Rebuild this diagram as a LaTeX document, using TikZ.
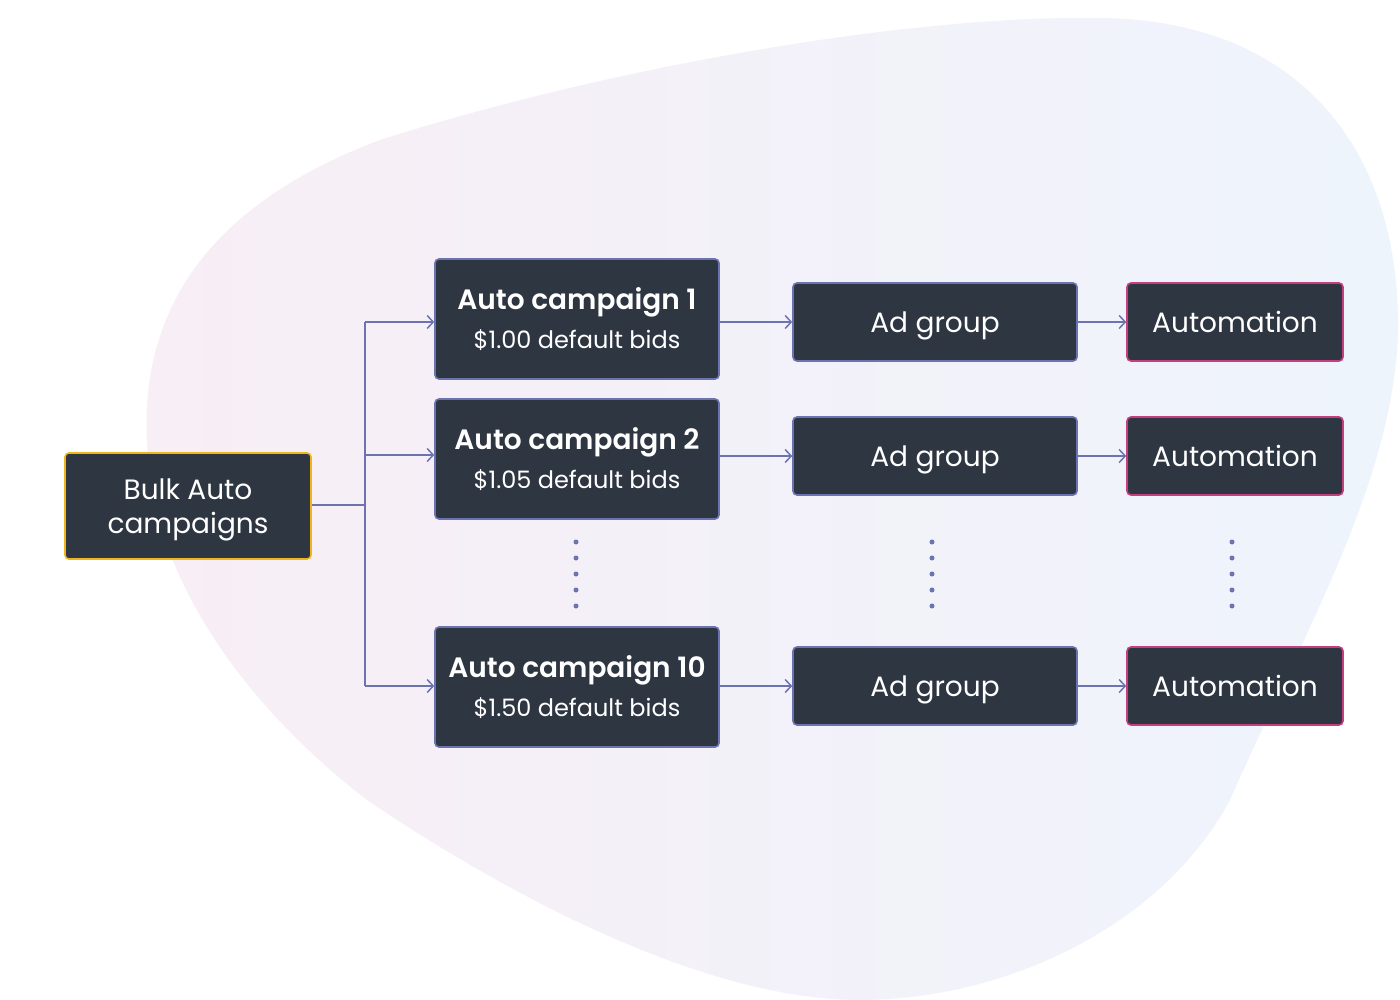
\documentclass[tikz,border=0pt]{standalone}
\usepackage{fontspec}
\setmainfont{Poppins}[BoldFont={Poppins SemiBold}]
\usetikzlibrary{arrows.meta}
\definecolor{boxfill}{HTML}{2E3642}
\definecolor{linec}{HTML}{6B74B0}
\definecolor{yel}{HTML}{F0B41C}
\definecolor{mag}{HTML}{C43E80}
\definecolor{blobL}{HTML}{F8EEF5}
\definecolor{blobR}{HTML}{EEF4FC}
\tikzset{
  basebox/.style={draw=linec, line width=1.6pt, fill=boxfill, rounded corners=4pt, text=white, align=center, inner sep=0pt},
  campbox/.style={basebox, minimum width=284pt, minimum height=120pt},
  adbox/.style={basebox, minimum width=284pt, minimum height=78pt, text depth=0pt, font=\fontsize{28}{32}\selectfont},
  autobox/.style={basebox, draw=mag, minimum width=216pt, minimum height=78pt, font=\fontsize{28}{32}\selectfont},
  bulkbox/.style={basebox, draw=yel, minimum width=246pt, minimum height=106pt, text depth=0pt, font=\fontsize{28}{34}\selectfont},
  conn/.style={draw=linec, line width=1.5pt, -{Straight Barb[length=6pt,width=13pt,line width=1.5pt]}},
  plain/.style={draw=linec, line width=1.5pt},
  dotc/.style={fill=linec, draw=none, circle, minimum size=5pt, inner sep=0pt}
}
\newcommand{\camptext}[2]{{\fontsize{28}{30}\selectfont\bfseries #1}\\[11pt]{\fontsize{24}{26}\selectfont #2}}
\begin{document}
\begin{tikzpicture}[x=1pt,y=-1pt]
\useasboundingbox (0,0) rectangle (1400,1000);
\shade[left color=blobL, right color=blobR]
  (147,440) .. controls (140,300) and (220,200) .. (380,140)
  .. controls (600,70) and (900,15) .. (1100,18)
  .. controls (1300,20) and (1400,150) .. (1398,330)
  .. controls (1395,480) and (1300,640) .. (1230,800)
  .. controls (1160,930) and (1000,1000) .. (860,1000)
  .. controls (700,1000) and (500,890) .. (367,800)
  .. controls (250,710) and (150,580) .. (147,440) -- cycle;
% nodes
\node[bulkbox] (bulk) at (188,506) {Bulk Auto\\campaigns};
\node[campbox] (c1) at (577,319) {\camptext{Auto campaign 1}{\$1.00 default bids}};
\node[campbox] (c2) at (577,459) {\camptext{Auto campaign 2}{\$1.05 default bids}};
\node[campbox] (c3) at (577,687) {\camptext{Auto campaign 10}{\$1.50 default bids}};
\node[adbox] (a1) at (935,322) {Ad group};
\node[adbox] (a2) at (935,456) {Ad group};
\node[adbox] (a3) at (935,686) {Ad group};
\node[autobox] (m1) at (1235,322) {Automation};
\node[autobox] (m2) at (1235,456) {Automation};
\node[autobox] (m3) at (1235,686) {Automation};
% trunk
\coordinate (tj) at (365,505);
\coordinate (t1) at (365,322);
\coordinate (t2) at (365,455);
\coordinate (t3) at (365,686);
\draw[plain] (bulk.east |- tj) -- (tj);
\draw[plain] (t1) -- (t3);
\draw[conn] (t1) -- (c1.west |- t1);
\draw[conn] (t2) -- (c2.west |- t2);
\draw[conn] (t3) -- (c3.west |- t3);
\draw[conn] (c1.east |- a1) -- (a1.west);
\draw[conn] (c2.east |- a2) -- (a2.west);
\draw[conn] (c3.east |- a3) -- (a3.west);
\draw[conn] (a1.east) -- (m1.west);
\draw[conn] (a2.east) -- (m2.west);
\draw[conn] (a3.east) -- (m3.west);
% dots
\foreach \x/\n in {576/d, 932/e, 1232/f}{
  \foreach \y [count=\i] in {542,558,574,590,606}{
    \node[dotc] (\n\i) at (\x,\y) {};
  }
}
\end{tikzpicture}
\end{document}
